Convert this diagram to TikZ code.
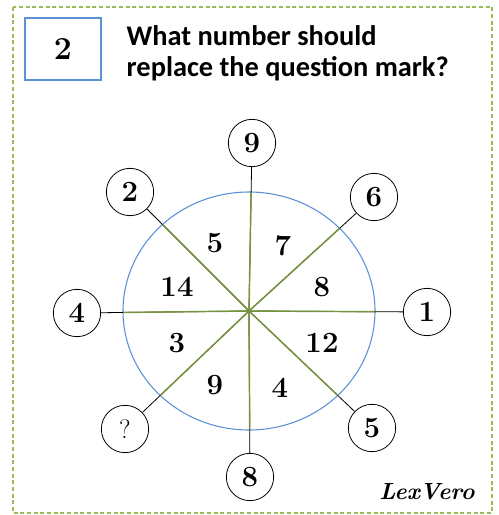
\documentclass[tikz,border=0pt]{standalone}
\usepackage{fontspec}
\newfontfamily\titlefont{Carlito}
\definecolor{frameGreen}{RGB}{155,187,89}
\definecolor{spokeGreen}{RGB}{118,146,60}
\definecolor{rimBlue}{RGB}{91,145,213}
\tikzset{
  outer/.style={draw, circle, minimum size=35.5pt, inner sep=0pt, line width=0.6pt, font=\fontsize{22}{22}\selectfont\bfseries},
  sector/.style={font=\fontsize{22}{22}\selectfont\bfseries},
  spoke/.style={draw=black, line width=0.6pt},
  seg/.style={draw=spokeGreen, line width=1.1pt}
}
\begin{document}
\begin{tikzpicture}[x=0.75pt, y=-0.75pt]
    \useasboundingbox (0,0) rectangle (499,515);

    % Cadre
    \draw[frameGreen, dashed, dash pattern=on 3pt off 2pt, line width=0.8pt] (13,7) rectangle (492,513);

    % Titre
    \node[draw=rimBlue, line width=1.5pt, minimum width=57pt, minimum height=47pt, font=\fontsize{24}{24}\selectfont\bfseries] (num) at (63,49) {2};
    \node[anchor=west, align=left, font=\titlefont\fontsize{21.3}{23.5}\selectfont\bfseries] (title) at (122,53) {What number should\\replace the question mark?};

    % Cercle
    \coordinate (o) at (249,311);
    \draw[rimBlue, line width=0.8pt] (o) ellipse [x radius=126, y radius=119];

    % Nombres ext\'erieurs
    \node[outer] (n9) at (252,143) {9};
    \node[outer] (n6) at (374,197) {6};
    \node[outer] (n1) at (427,312) {1};
    \node[outer] (n5) at (372,428) {5};
    \node[outer] (n8) at (250,477) {8};
    \node[outer, font=\fontsize{20}{20}\selectfont] (nq) at (125,429) {?};
    \node[outer] (n4) at (77,313) {4};
    \node[outer] (n2) at (130,192) {2};

    % Rayons
    \foreach \n in {n9,n6,n1,n5,n8,nq,n4,n2}
        \draw[spoke] (o) -- (\n);
    \begin{scope}
        \clip (o) ellipse [x radius=126, y radius=119];
        \foreach \n in {n9,n6,n1,n5,n8,nq,n4,n2}
            \draw[seg] (o) -- (\n);
    \end{scope}

    % Secteurs
    \node[sector] (s5) at (215,243) {5};
    \node[sector] (s7) at (283,246) {7};
    \node[sector] (s14) at (177,287) {14};
    \node[sector] (s8) at (322,287) {8};
    \node[sector] (s3) at (177,343) {3};
    \node[sector] (s12) at (322,343) {12};
    \node[sector] (s9) at (215,385) {9};
    \node[sector] (s4) at (280,388) {4};

    % Signature
    \node[font=\fontsize{17.5}{17.5}\selectfont\bfseries\itshape] (sig) at (427,492) {LexVero};
\end{tikzpicture}
\end{document}
